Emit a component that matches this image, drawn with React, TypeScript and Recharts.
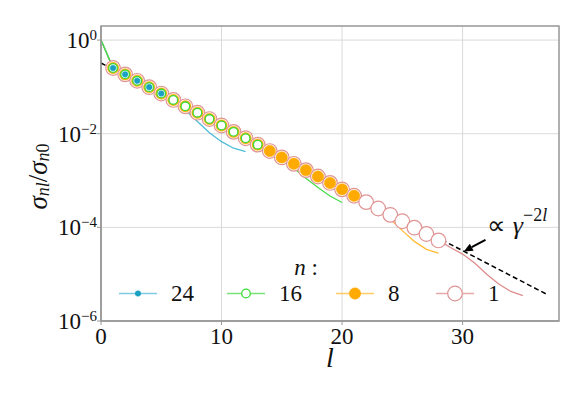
// σ_nl / σ_n0 decay versus l, for several n — log-scale line chart

import React, { useLayoutEffect, useRef } from 'react';
import {
  LineChart,
  Line,
  XAxis,
  YAxis,
  CartesianGrid,
  Legend,
  ReferenceArea,
  ReferenceLine,
  ReferenceDot,
} from 'recharts';

// ---------------------------------------------------------------------------
// Data
// ---------------------------------------------------------------------------

const lValues = [
  0, 1, 2, 3, 4, 5, 6, 7, 8, 9, 10, 11, 12, 13, 14, 15, 16, 17, 18, 19, 20, 21, 22, 23, 24, 25,
  26, 27, 28, 29, 30, 31, 32, 33, 34, 35, 36, 37,
];

// shared ratio at l = 1..28 (where markers sit)
const markerSigma = [
  0.2535, 0.1853, 0.1352, 0.0988, 0.0722, 0.0527, 0.0385, 0.0281, 0.0206, 0.015, 0.01096,
  0.00801, 0.00585, 0.00427, 0.00312, 0.00228, 0.00167, 0.00122, 0.000889, 0.000649, 0.000474,
  0.000346, 0.000253, 0.000185, 0.000135, 0.0000986, 0.0000721, 0.0000526,
];

const startSigma = 1; // every curve starts at l = 0 with ratio 1

// curve tails after the last marker
const tail24 = [0.0501, 0.0316, 0.0182, 0.01047, 0.00676, 0.0049, 0.00417]; // l = 6..12
const tail16 = [0.00417, 0.00282, 0.00182, 0.00112, 0.000708, 0.000468, 0.000339]; // l = 14..20
const tail8 = [0.000339, 0.00024, 0.000151, 0.0000851, 0.0000501, 0.0000339, 0.0000282]; // l = 22..28
const tail1 = [0.0000372, 0.0000269, 0.0000174, 0.00001, 0.00000617, 0.00000427, 0.00000347]; // l = 29..35

// reference slope ∝ γ^(-2l)
const guideL = [0, 37];
const guideSigma = [0.324, 0.0000037];

// arrow pointing at the guide line
const arrowL = [31.9, 30.1];
const arrowSigma = [0.0000543, 0.0000305];
const noteL = 32.05;
const noteSigma = 0.0000708;

const xTicks = [0, 10, 20, 30];
const yTicks = [1e-6, 1e-4, 1e-2, 1];

// ---------------------------------------------------------------------------
// Series styling
// ---------------------------------------------------------------------------

const FONT = 'Liberation Serif';

interface SeriesDef {
  n: number;
  markers: number; // markers at l = 1..markers
  tail: number[];
  line: string;
  dot: { r: number; fill: string; stroke: string; strokeWidth: number };
}

const series: SeriesDef[] = [
  { n: 24, markers: 5, tail: tail24, line: '#4fbcd8', dot: { r: 2.8, fill: '#1aa0c2', stroke: '#1aa0c2', strokeWidth: 0.5 } },
  { n: 16, markers: 13, tail: tail16, line: '#4bdc4b', dot: { r: 4.3, fill: '#ffffff', stroke: '#3ddc3d', strokeWidth: 1.3 } },
  { n: 8, markers: 21, tail: tail8, line: '#ffbb33', dot: { r: 5.7, fill: '#ffaa00', stroke: '#ffaa00', strokeWidth: 0.5 } },
  { n: 1, markers: 28, tail: tail1, line: '#de8c8c', dot: { r: 7.3, fill: '#ffffff', stroke: '#e09494', strokeWidth: 1.2 } },
];

const byN = (n: number) => series.find((s) => s.n === n)!;

// one row per l
const table = lValues.map((l) => {
  const row: Record<string, number | undefined> = { l };
  series.forEach((s) => {
    const curve = [startSigma, ...markerSigma.slice(0, s.markers), ...s.tail];
    row[`c${s.n}`] = curve[l];
    row[`m${s.n}`] = l >= 1 && l <= s.markers ? markerSigma[l - 1] : undefined;
  });
  const gi = guideL.indexOf(l);
  row.guide = gi >= 0 ? guideSigma[gi] : undefined;
  return row;
});

// ---------------------------------------------------------------------------
// Ticks, titles, legend, annotation
// ---------------------------------------------------------------------------

const YTick = (props: any) => {
  const { x, y, payload } = props;
  const exp = Math.round(Math.log10(payload.value));
  const expText = exp < 0 ? `\u2212${-exp}` : `${exp}`;
  return (
    <text x={x + 2} y={y + 8} textAnchor="end" fontFamily={FONT} fontSize={23} fill="#111">
      10
      <tspan dy={-8} fontSize={15}>
        {expText}
      </tspan>
    </text>
  );
};

const XTick = (props: any) => {
  const { x, y, payload } = props;
  return (
    <text x={x} y={y + 17} textAnchor="middle" fontFamily={FONT} fontSize={23} fill="#111">
      {payload.value}
    </text>
  );
};

const YTitle = (props: any) => {
  const vb = props.viewBox || { x: 0, y: 26, width: 101, height: 295 };
  const cx = 38;
  const cy = vb.y + vb.height / 2 + 3;
  return (
    <text
      x={cx}
      y={cy}
      transform={`rotate(-90, ${cx}, ${cy})`}
      textAnchor="middle"
      dominantBaseline="central"
      fontFamily={FONT}
      fontSize={27}
      fontStyle="italic"
      fill="#111"
    >
      σ<tspan dy={5} fontSize={18}>nl</tspan>
      <tspan dy={-5} fontStyle="normal">/</tspan>σ
      <tspan dy={5} fontSize={18}>n</tspan>
      <tspan fontSize={18} fontStyle="normal">0</tspan>
    </text>
  );
};

const XTitle = (props: any) => {
  const vb = props.viewBox || { x: 101, y: 321, width: 458, height: 77 };
  return (
    <text
      x={vb.x + vb.width / 2}
      y={vb.y + 46}
      textAnchor="middle"
      fontFamily={FONT}
      fontSize={28}
      fontStyle="italic"
      fill="#111"
    >
      l
    </text>
  );
};

const legendX = [9, 117, 226, 326];

const LegendBox = () => (
  <svg width={400} height={60} style={{ display: 'block', overflow: 'visible' }}>
    <text x={196} y={27} textAnchor="middle" fontFamily={FONT} fontSize={23} fill="#111">
      <tspan fontStyle="italic">n</tspan> :
    </text>
    {[24, 16, 8, 1].map((n, i) => {
      const s = byN(n);
      const x0 = legendX[i];
      const y = 45.5;
      return (
        <g key={n}>
          <line x1={x0} y1={y} x2={x0 + 38} y2={y} stroke={s.line} strokeWidth={1.3} opacity={0.75} />
          <circle cx={x0 + 19} cy={y} {...s.dot} />
          <text x={x0 + 52} y={y + 7.5} fontFamily={FONT} fontSize={23} fill="#111">
            {n}
          </text>
        </g>
      );
    })}
  </svg>
);

const Arrow = (props: any) => {
  const { x1, y1, x2, y2 } = props;
  const ang = Math.atan2(y2 - y1, x2 - x1);
  const len = 9;
  const half = 4;
  const bx = x2 - len * Math.cos(ang);
  const by = y2 - len * Math.sin(ang);
  const px = -Math.sin(ang) * half;
  const py = Math.cos(ang) * half;
  return (
    <g>
      <line x1={x1} y1={y1} x2={bx} y2={by} stroke="#000" strokeWidth={2} />
      <polygon points={`${x2},${y2} ${bx + px},${by + py} ${bx - px},${by - py}`} fill="#000" />
    </g>
  );
};

const Note = (props: any) => {
  const vb = props.viewBox || {};
  const x = vb.x ?? vb.cx ?? 0;
  const y = vb.y ?? vb.cy ?? 0;
  return (
    <text x={x} y={y} fontFamily={FONT} fontSize={26} fill="#111">
      ∝ <tspan fontStyle="italic">γ</tspan>
      <tspan dy={-13} fontSize={18}>
        {'\u2212'}2<tspan fontStyle="italic">l</tspan>
      </tspan>
    </text>
  );
};

// ---------------------------------------------------------------------------
// Chart
// ---------------------------------------------------------------------------

const curveOrder = [1, 8, 24, 16];
const markerOrder = [1, 8, 16, 24];

export default function App() {
  const boxRef = useRef<HTMLDivElement>(null);

  // pin the serif face on every text node, in case something overrides it
  useLayoutEffect(() => {
    const apply = () => {
      boxRef.current?.querySelectorAll('text, tspan').forEach((el) => {
        (el as SVGElement).style.setProperty('font-family', "'Liberation Serif', serif", 'important');
      });
    };
    apply();
    const t = setTimeout(apply, 50);
    return () => clearTimeout(t);
  });

  return (
    <div
      ref={boxRef}
      style={{ position: 'absolute', left: 0, top: 0, width: 586, height: 398, background: '#fff', fontFamily: FONT }}
    >
      <LineChart width={586} height={398} data={table} margin={{ top: 26, right: 27, bottom: 0, left: 0 }}>
        <CartesianGrid stroke="#dadada" strokeWidth={1} />

        <XAxis
          dataKey="l"
          type="number"
          domain={[0, 38]}
          ticks={xTicks}
          height={77}
          tick={<XTick />}
          tickSize={4}
          tickLine={{ stroke: '#999' }}
          axisLine={{ stroke: '#999', strokeWidth: 1.5 }}
          label={<XTitle />}
        />
        <YAxis
          type="number"
          scale="log"
          domain={[1e-6, 2]}
          allowDataOverflow
          ticks={yTicks}
          width={101}
          tick={<YTick />}
          tickSize={4}
          tickLine={{ stroke: '#999' }}
          axisLine={{ stroke: '#999', strokeWidth: 1.5 }}
          label={<YTitle />}
        />

        <ReferenceArea x1={0} x2={38} y1={1e-6} y2={2} fill="none" stroke="#9c9c9c" strokeWidth={1.5} />

        {curveOrder.map((n) => {
          const s = byN(n);
          return (
            <Line
              key={`c${n}`}
              dataKey={`c${n}`}
              type="linear"
              stroke={s.line}
              strokeWidth={1.3}
              dot={false}
              activeDot={false}
              isAnimationActive={false}
            />
          );
        })}

        <Line
          dataKey="guide"
          type="linear"
          stroke="#000"
          strokeWidth={1.5}
          strokeDasharray="5 3"
          connectNulls
          dot={false}
          activeDot={false}
          isAnimationActive={false}
        />

        {markerOrder.map((n) => {
          const s = byN(n);
          return (
            <Line
              key={`m${n}`}
              dataKey={`m${n}`}
              type="linear"
              stroke="none"
              dot={s.dot}
              activeDot={false}
              isAnimationActive={false}
            />
          );
        })}

        <ReferenceLine
          segment={[
            { x: arrowL[0], y: arrowSigma[0] },
            { x: arrowL[1], y: arrowSigma[1] },
          ]}
          shape={(p: any) => <Arrow {...p} />}
        />
        <ReferenceDot x={noteL} y={noteSigma} r={0} fill="none" stroke="none" label={<Note />} />

        <Legend
          layout="horizontal"
          verticalAlign="middle"
          align="center"
          content={() => <LegendBox />}
          wrapperStyle={{ position: 'absolute', left: 110, top: 248, width: 400, height: 60 }}
        />
      </LineChart>
    </div>
  );
}
